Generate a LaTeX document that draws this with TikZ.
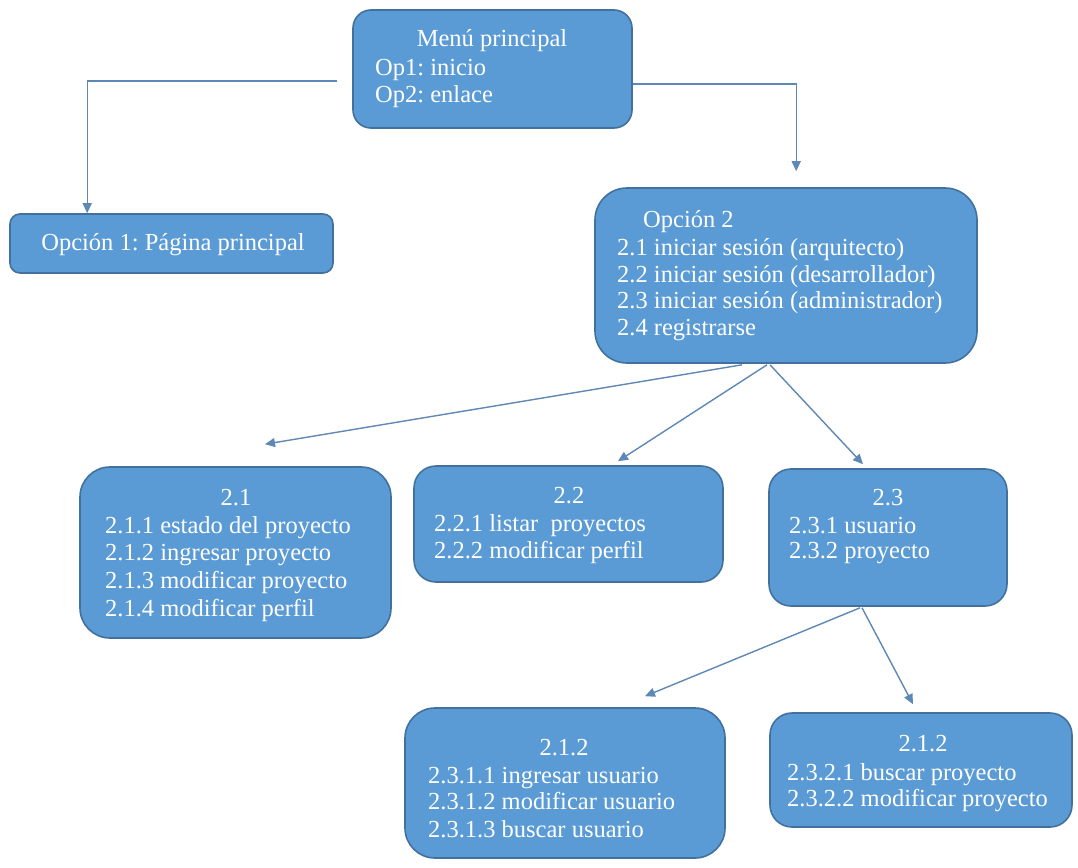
\documentclass[tikz,border=0pt]{standalone}
\usepackage{fontspec}
\setmainfont{Liberation Serif}
\usetikzlibrary{arrows.meta,calc}
\definecolor{boxfill}{HTML}{5B9BD5}
\definecolor{boxline}{HTML}{41719C}
\definecolor{linkcol}{HTML}{5E88B6}
\frenchspacing
% invisible strut that fixes the height of the first line of a text block
\newcommand\firstrow{\rule{0pt}{20pt}}
% text size with a given line pitch
\newcommand\boxfont[1]{\rmfamily\fontsize{24.5pt}{#1pt}\selectfont}

\tikzset{
  box/.style={draw=boxline, line width=1.6pt, fill=boxfill, inner sep=0pt},
  title/.style={text=white, inner sep=0pt, anchor=base, font=\boxfont{27.5}},
  body/.style={text=white, inner sep=0pt, anchor=north west, align=left},
  link/.style={draw=linkcol, line width=1.4pt, -{Triangle[length=10pt,width=9pt]}}
}

\begin{document}
\begin{tikzpicture}[x=1pt,y=-1pt]
\useasboundingbox[fill=white] (0,0) rectangle (1078,867);

% main menu
\node[box, rounded corners=18pt, minimum width=279pt, minimum height=118pt] (menu) at (492.5,69) {};
\node[title] (menu-t) at (492,47) {Menú principal};
\node[body, font=\boxfont{27.5}] (menu-b) at (375,55) {\firstrow Op1: inicio\\Op2: enlace};

% option 1
\node[box, rounded corners=10pt, minimum width=323pt, minimum height=59pt] (op1) at (171.5,243.5) {};
\node[title] (op1-t) at (173,250) {Opción 1: Página principal};

% option 2
\node[box, rounded corners=32pt, minimum width=382pt, minimum height=175pt] (op2) at (786,275.5) {};
\node[title, anchor=base west] (op2-t) at (643,227) {Opción 2};
\node[body, font=\boxfont{26.8}] (op2-b) at (617,235) {\firstrow 2.1 iniciar sesión (arquitecto)\\2.2 iniciar sesión (desarrollador)\\2.3 iniciar sesión (administrador)\\2.4 registrarse};

% 2.1
\node[box, rounded corners=30pt, minimum width=311pt, minimum height=171pt] (b21) at (235.5,552.5) {};
\node[title] (b21-t) at (236,505) {2.1};
\node[body, font=\boxfont{27.7}] (b21-b) at (105,513) {\firstrow 2.1.1 estado del proyecto\\2.1.2 ingresar proyecto\\2.1.3 modificar proyecto\\2.1.4 modificar perfil};

% 2.2
\node[box, rounded corners=22pt, minimum width=309pt, minimum height=116pt] (b22) at (568.5,524) {};
\node[title] (b22-t) at (569,503) {2.2};
\node[body, font=\boxfont{27}] (b22-b) at (434,511) {\firstrow 2.2.1 listar\ \ proyectos\\2.2.2 modificar perfil};

% 2.3
\node[box, rounded corners=22pt, minimum width=238pt, minimum height=137pt] (b23) at (888,537.5) {};
\node[title] (b23-t) at (888,505) {2.3};
\node[body, font=\boxfont{25.5}] (b23-b) at (789,513) {\firstrow 2.3.1 usuario\\2.3.2 proyecto};

% 2.3.1
\node[box, rounded corners=30pt, minimum width=320pt, minimum height=150pt] (b231) at (565,783) {};
\node[title] (b231-t) at (564,755) {2.1.2};
\node[body, font=\boxfont{26}] (b231-b) at (428,763) {\firstrow 2.3.1.1 ingresar usuario\\2.3.1.2 modificar usuario\\[2pt]2.3.1.3 buscar usuario};

% 2.3.2
\node[box, rounded corners=22pt, minimum width=302pt, minimum height=114pt] (b232) at (921,770) {};
\node[title] (b232-t) at (923,751) {2.1.2};
\node[body, font=\boxfont{26}] (b232-b) at (787,760) {\firstrow 2.3.2.1 buscar proyecto\\2.3.2.2 modificar proyecto};

% connectors
\draw[link] ($(menu.west)+(-15,12)$) -| ($(op1.north west)+(78,0)$);
\draw[link] ($(menu.east)+(0,15)$) -| ($(op2.north west)+(202,-16)$);
\draw[link] ($(op2.south)+(-44,1)$) -- ($(b21.north)+(29.5,-22)$);
\draw[link] ($(op2.south)+(-19,1)$) -- ($(b22.north)+(49.5,-4)$);
\draw[link] ($(op2.south)+(-16,1)$) -- ($(b23.north)+(-25,-4)$);
\draw[link] ($(b23.south)+(-28,1)$) -- ($(b231.north)+(80,-11)$);
\draw[link] ($(b23.south)+(-26,1)$) -- ($(b232.north)+(-8,-8)$);
\end{tikzpicture}
\end{document}
